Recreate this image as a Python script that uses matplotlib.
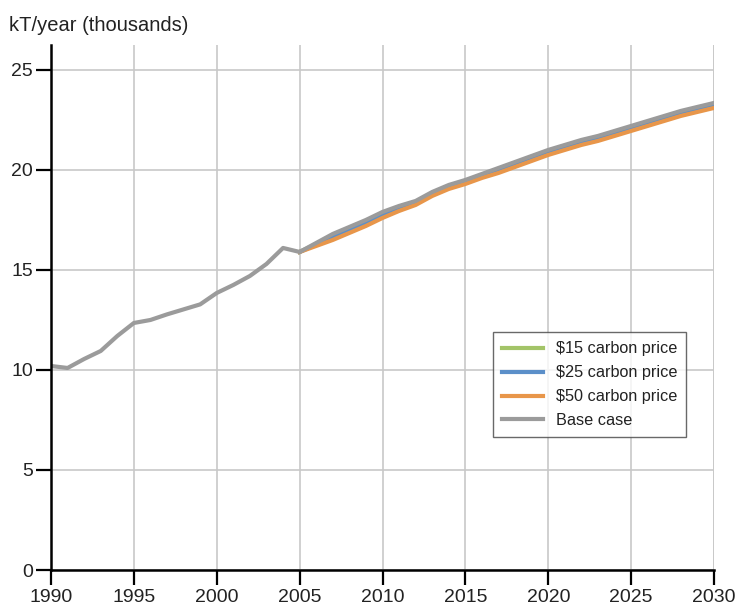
import matplotlib
matplotlib.use("Agg")
import matplotlib.pyplot as plt

plt.rcParams['font.family'] = ['Liberation Sans', 'DejaVu Sans']

# historic base case, 1990-2005
hist_years = list(range(1990, 2006))
hist_vals = [10.2, 10.1, 10.55, 10.95, 11.7, 12.35, 12.5, 12.78, 13.03, 13.28,
             13.85, 14.25, 14.7, 15.3, 16.1, 15.9]

# projections, 2005-2030
proj_years = list(range(2005, 2031))
base_proj = [15.9, 16.35, 16.8, 17.15, 17.5, 17.9, 18.2, 18.45, 18.9, 19.25,
             19.5, 19.8, 20.1, 20.4, 20.7, 21.0, 21.25, 21.5, 21.7, 21.95,
             22.2, 22.45, 22.7, 22.95, 23.15, 23.35]
price15 = [15.9, 16.3, 16.74, 17.09, 17.44, 17.84, 18.14, 18.39, 18.84, 19.19,
           19.44, 19.74, 20.04, 20.34, 20.64, 20.94, 21.19, 21.44, 21.64, 21.89,
           22.14, 22.39, 22.64, 22.89, 23.09, 23.29]
price25 = [15.9, 16.27, 16.68, 17.03, 17.38, 17.78, 18.08, 18.34, 18.79, 19.14,
           19.39, 19.69, 19.98, 20.28, 20.58, 20.88, 21.13, 21.38, 21.58, 21.83,
           22.08, 22.33, 22.58, 22.83, 23.03, 23.23]
price50 = [15.9, 16.2, 16.5, 16.85, 17.2, 17.6, 17.95, 18.25, 18.7, 19.05,
           19.3, 19.6, 19.85, 20.15, 20.45, 20.75, 21.0, 21.25, 21.45, 21.7,
           21.95, 22.2, 22.45, 22.7, 22.9, 23.1]

x_ticks = list(range(1990, 2031, 5))
y_ticks = [0, 5, 10, 15, 20, 25]

fig = plt.figure(figsize=(7.37, 6.12), dpi=100)
ax = fig.add_axes([0.0692, 0.0686, 0.8996, 0.858])

lw = 3.0
ax.plot(proj_years, price15, color='#a3c468', lw=lw, label='$15 carbon price', zorder=2.7)
ax.plot(proj_years, price25, color='#5b8fc9', lw=lw, label='$25 carbon price', zorder=2.8)
ax.plot(proj_years, price50, color='#e8964a', lw=lw, label='$50 carbon price', zorder=2.85)
ax.plot(hist_years + proj_years[1:], hist_vals + base_proj[1:], color='#9b9b9b',
        lw=lw, label='Base case', zorder=2.9)

ax.set_xlim(1990, 2030)
ax.set_ylim(0, 26.25)
ax.set_xticks(x_ticks)
ax.set_yticks(y_ticks)
ax.grid(True, color='#c8c8c8', lw=1.2, zorder=0)
ax.axvline(2030, color='#c8c8c8', lw=1.2, zorder=0)

for side in ['top', 'right']:
    ax.spines[side].set_visible(False)
for side in ['left', 'bottom']:
    ax.spines[side].set_linewidth(1.8)
    ax.spines[side].set_color('black')
    ax.spines[side].set_zorder(4)
ax.tick_params(axis='both', length=11, width=1.6, labelsize=14, colors='black',
               labelcolor='#222222')
ax.tick_params(axis='y', pad=2)
ax.tick_params(axis='x', pad=3)

fig.text(0.012, 0.958, 'kT/year (thousands)', fontsize=14.5, color='#222222',
         ha='left', va='center')

leg = ax.legend(loc='upper left', bbox_to_anchor=(0.6545, 0.468), fontsize=11.7,
                frameon=True, fancybox=False, handlelength=2.5,
                borderpad=0.55, labelspacing=0.55, handletextpad=0.8)
leg.get_frame().set_edgecolor('#444444')
leg.get_frame().set_linewidth(1.0)
for t in leg.get_texts():
    t.set_color('#222222')

fig.savefig('out.png', dpi=100)
